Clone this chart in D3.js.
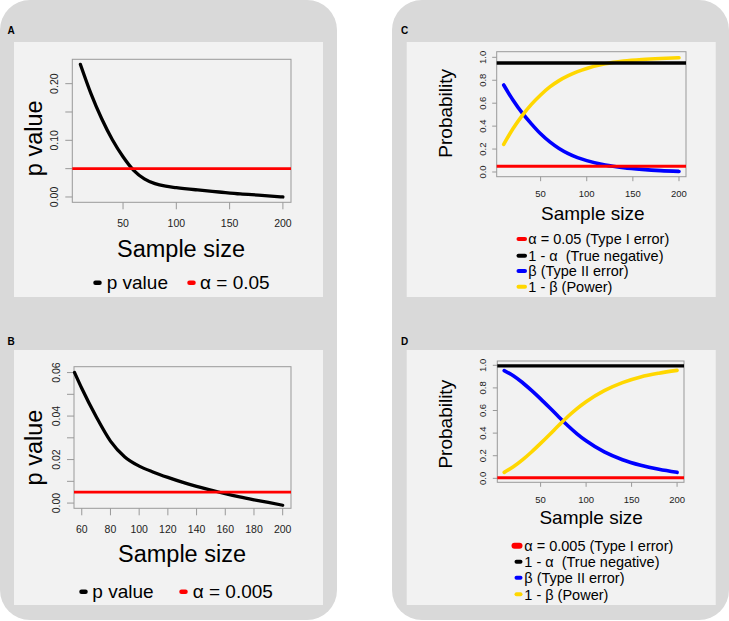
<!DOCTYPE html>
<html>
<head>
<meta charset="utf-8">
<script src="https://cdn.jsdelivr.net/npm/d3@7"></script>
<style>
body { margin: 0; background: #fff; }
svg { display: block; }
text { font-family: "Liberation Sans", Arial, sans-serif; white-space: pre; }
</style>
</head>
<body>
<div id="chart"></div>
<script>
// ---- values ----
var sizeA = [10, 20, 30, 40, 50, 60, 70, 80, 90, 100, 120, 140, 160, 180, 200];
var pA = [0.234, 0.182, 0.138, 0.101, 0.071, 0.047, 0.032, 0.0235, 0.019, 0.0165, 0.0124, 0.0088, 0.0053, 0.003, 0.0];

var sizeB = [55, 60, 70, 80, 90, 100, 110, 120, 130, 140, 150, 160, 170, 180, 190, 200];
var pB = [0.060, 0.0528, 0.0398, 0.0285, 0.0212, 0.0170, 0.0142, 0.0118, 0.0096, 0.0077, 0.0060, 0.0043, 0.0028, 0.0015, 0.0003, -0.001];

var sizeC = [10, 20, 30, 40, 50, 60, 70, 80, 90, 100, 120, 140, 160, 180, 200];
var betaC = [0.759, 0.628, 0.515, 0.420, 0.333, 0.262, 0.205, 0.160, 0.125, 0.099, 0.061, 0.038, 0.023, 0.012, 0.005];
var powerC = [0.241, 0.377, 0.492, 0.590, 0.672, 0.742, 0.797, 0.840, 0.875, 0.903, 0.943, 0.967, 0.981, 0.990, 0.996];

var sizeD = [10, 20, 30, 40, 50, 60, 70, 80, 90, 100, 120, 140, 160, 180, 200];
var betaD = [0.953, 0.908, 0.848, 0.778, 0.703, 0.624, 0.543, 0.465, 0.394, 0.332, 0.234, 0.165, 0.116, 0.080, 0.053];
var powerD = [0.053, 0.102, 0.163, 0.233, 0.309, 0.388, 0.469, 0.547, 0.617, 0.678, 0.776, 0.847, 0.897, 0.930, 0.955];

var alphaAB = [0.05, 0.005];
var alphaCD = [0.05, 0.005];
var trueNegCD = [0.95, 0.995];

var xTicksA = [50, 100, 150, 200];
var yTicksA = [0, 0.05, 0.10, 0.15, 0.20];
var yLabelsA = ["0.00", "", "0.10", "", "0.20"];
var xTicksB = [60, 80, 100, 120, 140, 160, 180, 200];
var yTicksB = [0, 0.01, 0.02, 0.03, 0.04, 0.05, 0.06];
var yLabelsB = ["0.00", "", "0.02", "", "0.04", "", "0.06"];
var xTicksCD = [50, 100, 150, 200];
var yTicksCD = [0, 0.2, 0.4, 0.6, 0.8, 1.0];
var yLabelsCD = ["0.0", "0.2", "0.4", "0.6", "0.8", "1.0"];

var legendAB = [["p value", "α = 0.05"], ["p value", "α = 0.005"]];
var legendC = ["α = 0.05 (Type I error)", "1 - α  (True negative)", "β (Type II error)", "1 - β (Power)"];
var legendD = ["α = 0.005 (Type I error)", "1 - α  (True negative)", "β (Type II error)", "1 - β (Power)"];

var RED = "#ff0000", BLACK = "#000000", BLUE = "#0000ff", GOLD = "#ffd700";

var svg = d3.select("#chart").append("svg")
    .attr("width", 729)
    .attr("height", 621);

// gray cards and light plot panels
svg.append("rect").attr("x", 0).attr("y", 0).attr("width", 337).attr("height", 620)
    .attr("rx", 30).attr("fill", "#d9d9d9");
svg.append("rect").attr("x", 392).attr("y", 0).attr("width", 337).attr("height", 620)
    .attr("rx", 30).attr("fill", "#d9d9d9");

[[14, 42], [14, 350], [406.7, 42], [406.7, 350]].forEach(function (p) {
    svg.append("rect").attr("x", p[0]).attr("y", p[1]).attr("width", 309).attr("height", 255)
        .attr("fill", "#f2f2f2");
});

[["A", 7.5, 33.5], ["B", 7.5, 345], ["C", 401, 33.5], ["D", 401, 345]].forEach(function (l) {
    svg.append("text").attr("x", l[1]).attr("y", l[2])
        .attr("font-family", "'Open Sans', sans-serif")
        .attr("font-weight", 700).attr("font-size", "10px").text(l[0]);
});

function panel(cfg) {

    var g = svg.append("g");
    var b = cfg.box;

    var x = d3.scaleLinear().domain(cfg.xDomain).range([b[0], b[2]]);
    var y = d3.scaleLinear().domain(cfg.yDomain).range([b[3], b[1]]);

    g.append("rect")
        .attr("x", b[0]).attr("y", b[1])
        .attr("width", b[2] - b[0]).attr("height", b[3] - b[1])
        .attr("fill", "none").attr("stroke", "#999").attr("stroke-width", 1);

    g.selectAll("line.xt")
        .data(cfg.xTicks)
        .enter().append("line")
        .attr("class", "xt")
        .attr("x1", x).attr("x2", x)
        .attr("y1", b[3]).attr("y2", b[3] + cfg.tickLen)
        .attr("stroke", "#999");

    g.selectAll("text.xl")
        .data(cfg.xTicks)
        .enter().append("text")
        .attr("class", "xl")
        .attr("x", x)
        .attr("y", b[3] + cfg.xLabelDy)
        .attr("text-anchor", "middle")
        .attr("font-size", cfg.tickFont)
        .attr("fill", "#222")
        .text(function (d) { return d; });

    g.selectAll("line.yt")
        .data(cfg.yTicks)
        .enter().append("line")
        .attr("class", "yt")
        .attr("x1", b[0] - cfg.tickLen).attr("x2", b[0])
        .attr("y1", y).attr("y2", y)
        .attr("stroke", "#999");

    g.selectAll("text.yl")
        .data(cfg.yTicks)
        .enter().append("text")
        .attr("class", "yl")
        .attr("transform", function (d) {
            return "translate(" + (b[0] - cfg.yLabelDx) + "," + y(d) + ") rotate(-90)";
        })
        .attr("text-anchor", "middle")
        .attr("font-size", cfg.tickFont)
        .attr("fill", "#222")
        .text(function (d, i) { return cfg.yLabels[i]; });

    var line = d3.line()
        .x(function (d) { return x(d[0]); })
        .y(function (d) { return y(d[1]); })
        .curve(d3.curveMonotoneX);

    cfg.series.forEach(function (s) {
        g.append("path")
            .datum(d3.zip(s.x, s.y))
            .attr("d", line)
            .attr("fill", "none")
            .attr("stroke", s.color)
            .attr("stroke-width", s.width)
            .attr("stroke-linecap", "round");
    });

    cfg.hlines.forEach(function (h) {
        g.append("line")
            .attr("x1", b[0]).attr("x2", b[2])
            .attr("y1", y(h.value)).attr("y2", y(h.value))
            .attr("stroke", h.color)
            .attr("stroke-width", h.width);
    });

    g.append("text")
        .attr("x", cfg.xTitle[0]).attr("y", cfg.xTitle[1])
        .attr("text-anchor", "middle")
        .attr("font-size", cfg.titleFont)
        .text("Sample size");

    g.append("text")
        .attr("transform", "translate(" + cfg.yTitle[0] + "," + cfg.yTitle[1] + ") rotate(-90)")
        .attr("text-anchor", "middle")
        .attr("font-size", cfg.titleFont)
        .text(cfg.yTitleText);

    cfg.legend.forEach(function (item) {
        g.append("line")
            .attr("x1", item.x1).attr("x2", item.x2)
            .attr("y1", item.y).attr("y2", item.y)
            .attr("stroke", item.color)
            .attr("stroke-width", item.w)
            .attr("stroke-linecap", "round");
        g.append("text")
            .attr("x", item.tx).attr("y", item.y + cfg.legendDy)
            .attr("font-size", cfg.legendFont)
            .text(item.text);
    });
}

// A
panel({
    box: [72.3, 59.3, 291, 202.3],
    xDomain: [2.4, 207.6], yDomain: [-0.0094, 0.243],
    xTicks: xTicksA, yTicks: yTicksA, yLabels: yLabelsA,
    tickLen: 7, xLabelDy: 24.4, yLabelDx: 14, tickFont: "10.5px",
    series: [{ x: sizeA, y: pA, color: BLACK, width: 3.3 }],
    hlines: [{ value: alphaAB[0], color: RED, width: 2.8 }],
    titleFont: "23.5px", xTitle: [181, 256.7], yTitle: [41.7, 138.3], yTitleText: "p value",
    legendFont: "19px", legendDy: 6,
    legend: [
        { x1: 95.5, x2: 99.5, y: 282.7, color: BLACK, w: 4.5, tx: 106.7, text: legendAB[0][0] },
        { x1: 189.5, x2: 193.5, y: 282.7, color: RED, w: 4.5, tx: 200, text: legendAB[0][1] }
    ]
});

// B
panel({
    box: [74, 366.7, 291, 508.3],
    xDomain: [54.6, 205.8], yDomain: [-0.0024, 0.0627],
    xTicks: xTicksB, yTicks: yTicksB, yLabels: yLabelsB,
    tickLen: 7, xLabelDy: 24.4, yLabelDx: 14.5, tickFont: "10.5px",
    series: [{ x: sizeB, y: pB, color: BLACK, width: 3.3 }],
    hlines: [{ value: alphaAB[1], color: RED, width: 2.8 }],
    titleFont: "23.5px", xTitle: [182, 562.3], yTitle: [41.7, 447.5], yTitleText: "p value",
    legendFont: "19px", legendDy: 6,
    legend: [
        { x1: 81.5, x2: 85.5, y: 591.7, color: BLACK, w: 4.5, tx: 92.3, text: legendAB[1][0] },
        { x1: 181.5, x2: 185.5, y: 591.7, color: RED, w: 4.5, tx: 192.7, text: legendAB[1][1] }
    ]
});

// C
panel({
    box: [496.7, 51.7, 686, 176.7],
    xDomain: [2.4, 207.6], yDomain: [-0.041, 1.049],
    xTicks: xTicksCD, yTicks: yTicksCD, yLabels: yLabelsCD,
    tickLen: 4.5, xLabelDy: 20.6, yLabelDx: 11.2, tickFont: "9.5px",
    series: [
        { x: sizeC, y: betaC, color: BLUE, width: 3.6 },
        { x: sizeC, y: powerC, color: GOLD, width: 3.6 }
    ],
    hlines: [
        { value: trueNegCD[0], color: BLACK, width: 3.4 },
        { value: alphaCD[0], color: RED, width: 3 }
    ],
    titleFont: "19px", xTitle: [592.8, 220], yTitle: [452.3, 113.3], yTitleText: "Probability",
    legendFont: "14.5px", legendDy: 5.3,
    legend: [
        { x1: 518.5, x2: 525, y: 239, color: RED, w: 4, tx: 528.3, text: legendC[0] },
        { x1: 518.5, x2: 525, y: 255.7, color: BLACK, w: 4, tx: 528.3, text: legendC[1] },
        { x1: 518.5, x2: 525, y: 271, color: BLUE, w: 4, tx: 528.3, text: legendC[2] },
        { x1: 518.5, x2: 525, y: 286.7, color: GOLD, w: 4, tx: 528.3, text: legendC[3] }
    ]
});

// D
panel({
    box: [497.3, 361, 684, 482.3],
    xDomain: [2.4, 207.6], yDomain: [-0.035, 1.038],
    xTicks: xTicksCD, yTicks: yTicksCD, yLabels: yLabelsCD,
    tickLen: 4.5, xLabelDy: 21, yLabelDx: 11.6, tickFont: "9.5px",
    series: [
        { x: sizeD, y: betaD, color: BLUE, width: 3.6 },
        { x: sizeD, y: powerD, color: GOLD, width: 3.6 }
    ],
    hlines: [
        { value: trueNegCD[1], color: BLACK, width: 3.4 },
        { value: alphaCD[1], color: RED, width: 3 }
    ],
    titleFont: "19px", xTitle: [591.2, 524], yTitle: [452.3, 424.2], yTitleText: "Probability",
    legendFont: "14.5px", legendDy: 5.3,
    legend: [
        { x1: 514.5, x2: 519.5, y: 545.7, color: RED, w: 6, tx: 524.3, text: legendD[0] },
        { x1: 516.5, x2: 520.5, y: 561.7, color: BLACK, w: 4, tx: 524.3, text: legendD[1] },
        { x1: 516.5, x2: 520.5, y: 577.7, color: BLUE, w: 4, tx: 524.3, text: legendD[2] },
        { x1: 516.5, x2: 520.5, y: 594.3, color: GOLD, w: 4, tx: 524.3, text: legendD[3] }
    ]
});
</script>
</body>
</html>
